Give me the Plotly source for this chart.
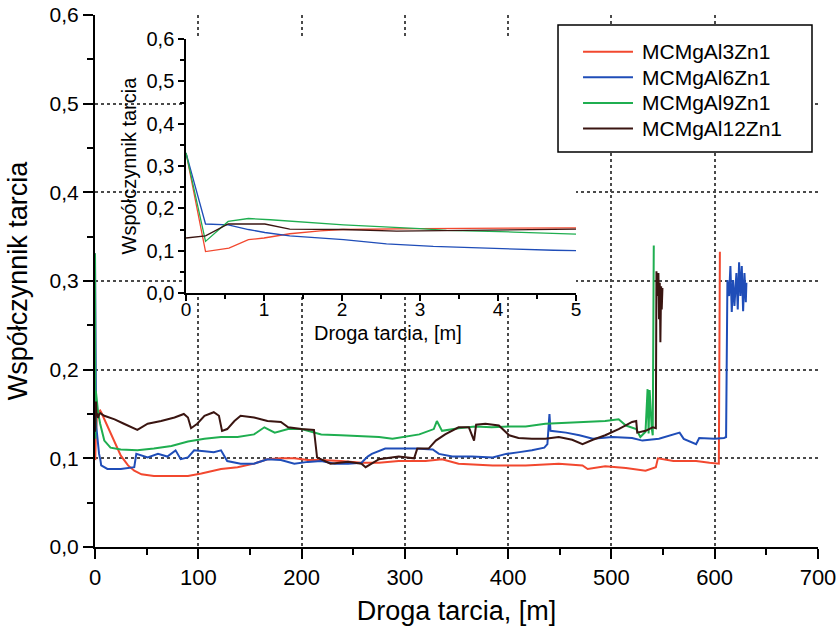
import plotly.graph_objects as go

# Friction coefficient vs sliding distance for four MCMgAl-Zn composites.
series_names = ["MCMgAl3Zn1", "MCMgAl6Zn1", "MCMgAl9Zn1", "MCMgAl12Zn1"]
series_colors = ["#F2482F", "#1F4DB8", "#1FAE50", "#3A1511"]

# --- first 5 m of sliding (inset) ---
start_x_al3 = [0, 0.25, 0.55, 0.8, 1.0, 1.33, 1.72, 2.0, 3.0, 4.0, 5.0]
start_y_al3 = [0.331, 0.098, 0.106, 0.126, 0.130, 0.140, 0.147, 0.150, 0.152, 0.153, 0.154]

start_x_al6 = [0, 0.25, 0.54, 0.8, 1.01, 1.33, 2.02, 2.57, 3.17, 3.94, 4.71, 5.0]
start_y_al6 = [0.331, 0.163, 0.161, 0.150, 0.143, 0.135, 0.126, 0.116, 0.110, 0.105, 0.101, 0.100]

start_x_al9 = [0, 0.25, 0.54, 0.8, 1.08, 2.02, 3.0, 3.34, 4.2, 5.0]
start_y_al9 = [0.331, 0.122, 0.169, 0.176, 0.173, 0.161, 0.152, 0.148, 0.144, 0.139]

start_x_al12 = [0, 0.25, 0.54, 1.01, 1.33, 2.02, 2.7, 3.34, 4.2, 5.0]
start_y_al12 = [0.130, 0.135, 0.163, 0.163, 0.151, 0.150, 0.146, 0.147, 0.150, 0.151]

# --- remainder of the test ---
rest_x_al3 = [6, 12, 19, 25, 32, 38, 45, 57, 74, 90, 103, 122, 138, 154, 167, 180, 193,
              206, 219, 238, 258, 275, 294, 320, 336, 352, 385, 417, 449, 472, 477, 494,
              514, 533, 543, 545, 560, 582, 595, 604, 605]
rest_y_al3 = [0.152, 0.137, 0.118, 0.103, 0.092, 0.086, 0.082, 0.080, 0.080, 0.080, 0.083,
              0.088, 0.090, 0.094, 0.099, 0.100, 0.100, 0.098, 0.098, 0.097, 0.095, 0.095,
              0.097, 0.097, 0.099, 0.094, 0.092, 0.092, 0.094, 0.092, 0.088, 0.091, 0.089,
              0.086, 0.090, 0.100, 0.097, 0.097, 0.095, 0.094, 0.333]

rest_x_al6 = [6, 12, 25, 38, 40, 51, 61, 70, 78, 83, 90, 96, 106, 115, 122, 128, 141, 154,
              167, 180, 193, 206, 219, 232, 245, 258, 264, 268, 281, 297, 310, 327, 333,
              346, 365, 385, 398, 411, 423, 435, 438, 440, 441, 456, 469, 482, 501, 520,
              530, 546, 566, 570, 582, 585, 600, 609, 611,
              612.3, 613.9, 615.2, 616.5, 617.8, 619.1, 621.0, 622.3, 623.6, 624.9,
              626.2, 627.5, 628.8, 630.1, 630.7]
rest_y_al6 = [0.092, 0.088, 0.088, 0.090, 0.105, 0.101, 0.105, 0.102, 0.109, 0.099, 0.101,
              0.109, 0.108, 0.107, 0.109, 0.097, 0.094, 0.094, 0.099, 0.098, 0.094, 0.096,
              0.097, 0.094, 0.094, 0.095, 0.102, 0.105, 0.111, 0.111, 0.111, 0.110, 0.105,
              0.102, 0.102, 0.101, 0.105, 0.107, 0.109, 0.112, 0.116, 0.150, 0.131, 0.129,
              0.126, 0.122, 0.124, 0.123, 0.120, 0.122, 0.129, 0.122, 0.116, 0.123, 0.122,
              0.123, 0.124,
              0.301, 0.283, 0.317, 0.265, 0.301, 0.272, 0.309, 0.268, 0.321, 0.283,
              0.317, 0.266, 0.309, 0.276, 0.298]

rest_x_al9 = [9, 15, 25, 41, 57, 74, 90, 106, 122, 138, 154, 164, 174, 187, 200, 219, 238,
              264, 275, 288, 297, 314, 328, 331, 336, 352, 368, 384, 401, 417, 436, 456,
              475, 494, 507, 514, 524, 528, 533, 535, 536, 537, 539, 540, 541]
rest_y_al9 = [0.120, 0.112, 0.110, 0.109, 0.111, 0.114, 0.119, 0.122, 0.124, 0.124, 0.127,
              0.135, 0.129, 0.133, 0.133, 0.127, 0.126, 0.125, 0.124, 0.122, 0.124, 0.127,
              0.133, 0.142, 0.131, 0.134, 0.136, 0.135, 0.136, 0.136, 0.139, 0.140, 0.141,
              0.142, 0.144, 0.137, 0.133, 0.124, 0.130, 0.178, 0.128, 0.177, 0.134, 0.126,
              0.340]

rest_x_al12 = [9, 19, 28, 41, 51, 64, 77, 86, 90, 93, 99, 106, 115, 120, 123, 128, 135,
               141, 154, 167, 180, 187, 200, 212, 215, 219, 228, 245, 258, 262, 275, 294,
               309, 312, 323, 330, 339, 352, 362, 367, 369, 378, 391, 401, 410, 423, 436,
               449, 462, 472, 482, 494, 507, 520, 524, 525, 533, 540, 543, 543.6, 544.5,
               545.5, 546.1, 546.8, 547.4, 548.1, 548.7, 549.4]
rest_y_al12 = [0.148, 0.144, 0.139, 0.132, 0.139, 0.142, 0.146, 0.150, 0.146, 0.134, 0.139,
               0.148, 0.152, 0.148, 0.131, 0.133, 0.142, 0.148, 0.146, 0.142, 0.141, 0.135,
               0.133, 0.132, 0.101, 0.099, 0.094, 0.096, 0.094, 0.090, 0.099, 0.102, 0.100,
               0.111, 0.111, 0.120, 0.127, 0.135, 0.135, 0.120, 0.138, 0.139, 0.137, 0.126,
               0.123, 0.122, 0.122, 0.124, 0.121, 0.116, 0.121, 0.126, 0.133, 0.141, 0.142,
               0.129, 0.131, 0.135, 0.134, 0.311, 0.283, 0.309, 0.257, 0.298, 0.231, 0.294,
               0.268, 0.292]

start_x = [start_x_al3, start_x_al6, start_x_al9, start_x_al12]
start_y = [start_y_al3, start_y_al6, start_y_al9, start_y_al12]
rest_x = [rest_x_al3, rest_x_al6, rest_x_al9, rest_x_al12]
rest_y = [rest_y_al3, rest_y_al6, rest_y_al9, rest_y_al12]

FONT = "Liberation Sans, Arial, sans-serif"
GRID = "#4a4a4a"

fig = go.Figure()

# full-length curves on the main axes
for name, color, sx, sy, rx, ry in zip(series_names, series_colors, start_x, start_y, rest_x, rest_y):
    fig.add_trace(go.Scatter(x=sx + rx, y=sy + ry, mode="lines", name=name,
                             line=dict(color=color, width=2), showlegend=False,
                             xaxis="x", yaxis="y"))

# running-in detail on the inset axes
for name, color, sx, sy in zip(series_names, series_colors, start_x, start_y):
    fig.add_trace(go.Scatter(x=sx, y=sy, mode="lines", name=name, showlegend=False,
                             line=dict(color=color, width=1.3),
                             xaxis="x2", yaxis="y2"))

# boxed key in the upper right corner (paper coordinates)
key_box = dict(x0=0.6404, x1=0.9917, y0=0.7425, y1=0.9812)
key_line_x = (0.675, 0.7441)
key_text_x = 0.7538
key_first_y = 0.9310
key_step = 0.0481

shapes = [dict(type="rect", xref="paper", yref="paper", layer="above",
               fillcolor="white", line=dict(color="black", width=1.5), **key_box)]
annotations = []
for i, (name, color) in enumerate(zip(series_names, series_colors)):
    ky = key_first_y - i * key_step
    shapes.append(dict(type="line", xref="paper", yref="paper", layer="above",
                       x0=key_line_x[0], x1=key_line_x[1], y0=ky, y1=ky,
                       line=dict(color=color, width=2)))
    annotations.append(dict(text=name, xref="paper", yref="paper", x=key_text_x, y=ky,
                            xanchor="left", yanchor="middle", showarrow=False,
                            font=dict(size=21, color="black")))

# inset x-axis caption, tucked right under its tick labels
annotations.append(dict(text="Droga tarcia, [m]", xref="paper", yref="paper",
                        x=0.4053, y=0.4023, xanchor="center", yanchor="middle",
                        showarrow=False, font=dict(size=20, color="black")))

axis_common = dict(showline=True, linecolor="black", ticks="outside", tickcolor="black",
                   zeroline=False, automargin=False)

fig.update_layout(
    width=838, height=633,
    margin=dict(l=95, r=20, t=15, b=86),
    paper_bgcolor="white", plot_bgcolor="white",
    separators=", ",
    showlegend=False,
    font=dict(family=FONT, color="black"),
    shapes=shapes,
    annotations=annotations,
    xaxis=dict(**axis_common, domain=[0, 1], range=[0, 700], tick0=0, dtick=100,
               linewidth=2, ticklen=10, tickwidth=2,
               showgrid=True, gridcolor=GRID, griddash="dot", gridwidth=1.5,
               minor=dict(ticks="outside", dtick=50, ticklen=6, tickwidth=2,
                          tickcolor="black", showgrid=False),
               tickfont=dict(size=22),
               title=dict(text="Droga tarcia, [m]", font=dict(size=27), standoff=12)),
    yaxis=dict(**axis_common, domain=[0, 1], range=[0, 0.6], tick0=0, dtick=0.1,
               tickformat=".1f", linewidth=2, ticklen=10, tickwidth=2,
               showgrid=True, gridcolor=GRID, griddash="dot", gridwidth=1.5,
               minor=dict(ticks="outside", dtick=0.05, ticklen=6, tickwidth=2,
                          tickcolor="black", showgrid=False),
               tickfont=dict(size=21),
               title=dict(text="Współczynnik tarcia", font=dict(size=27), standoff=14)),
    xaxis2=dict(**axis_common, domain=[0.1259, 0.6653], anchor="y2", range=[0, 5],
                tick0=0, dtick=1, linewidth=1.5, ticklen=6, tickwidth=1.5,
                showgrid=False, ticklabelstandoff=-8,
                minor=dict(ticks="outside", dtick=0.5, ticklen=4, tickwidth=1.5,
                           tickcolor="black", showgrid=False),
                tickfont=dict(size=19)),
    yaxis2=dict(**axis_common, domain=[0.4774, 0.9549], anchor="x2", range=[0, 0.6],
                tick0=0, dtick=0.1, tickformat=".1f", linewidth=1.5, ticklen=6,
                tickwidth=1.5, showgrid=False,
                minor=dict(ticks="outside", dtick=0.05, ticklen=4, tickwidth=1.5,
                           tickcolor="black", showgrid=False),
                tickfont=dict(size=20),
                title=dict(text="Współczynnik tarcia", font=dict(size=20), standoff=4)),
)

fig.write_html("out.html")
